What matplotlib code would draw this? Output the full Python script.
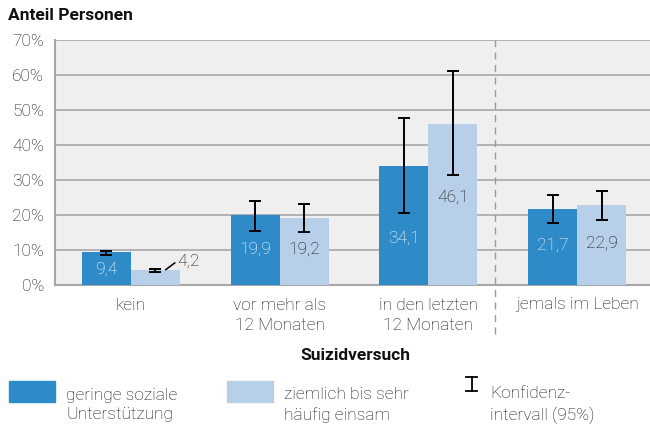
import matplotlib.pyplot as plt
import matplotlib.patches as mpatches
import numpy as np

plt.rcParams['font.family'] = ['Roboto', 'DejaVu Sans']
plt.rcParams['font.size'] = 12.5

# Daten
kategorien = ['kein', 'vor mehr als\n12 Monaten', 'in den letzten\n12 Monaten', 'jemals im Leben']
gering_unterstuetzung = [9.4, 19.9, 34.1, 21.7]
gering_ki_unten = [8.7, 15.5, 20.7, 17.6]
gering_ki_oben = [9.8, 24.0, 47.6, 25.8]
einsam = [4.2, 19.2, 46.1, 22.9]
einsam_ki_unten = [3.6, 15.1, 31.4, 18.6]
einsam_ki_oben = [4.6, 23.2, 61.1, 26.9]
yticks = [0, 10, 20, 30, 40, 50, 60, 70]

dunkel = '#2E8BC7'
hell = '#B8CFEA'
txt = '#111111'
fs = 12.5

fig = plt.figure(figsize=(6.5, 4.25), dpi=100)
ax = fig.add_axes([55/650, 1 - 285/425, 595/650, 245/425])
ax.set_facecolor('#EFEFEF')

x = np.arange(len(kategorien))
b = 0.33

ax.bar(x - b/2, gering_unterstuetzung, b, color=dunkel, zorder=3)
ax.bar(x + b/2, einsam, b, color=hell, zorder=3)

g = np.array(gering_unterstuetzung)
e = np.array(einsam)
ax.errorbar(x - b/2, g, yerr=[g - np.array(gering_ki_unten), np.array(gering_ki_oben) - g],
            fmt='none', ecolor='black', elinewidth=1.4, capsize=4.5, capthick=1.4, zorder=4)
ax.errorbar(x + b/2, e, yerr=[e - np.array(einsam_ki_unten), np.array(einsam_ki_oben) - e],
            fmt='none', ecolor='black', elinewidth=1.4, capsize=4.5, capthick=1.4, zorder=4)

# Beschriftungen in den Balken
pos_g = [4.4, 10.2, 13.5, 11.3]
pos_e = [None, 10.2, 25.0, 11.9]
for i in range(len(kategorien)):
    ax.text(x[i] - b/2, pos_g[i], f'{gering_unterstuetzung[i]:.1f}'.replace('.', ','),
            ha='center', va='center', color='white', fontweight='light', fontsize=fs, zorder=5)
    if pos_e[i] is not None:
        ax.text(x[i] + b/2, pos_e[i], f'{einsam[i]:.1f}'.replace('.', ','),
                ha='center', va='center', color=txt, fontweight='light', fontsize=fs, zorder=5)
# 4,2 ausserhalb mit Linie
ax.plot([x[0] + b/2 + 0.07, x[0] + b/2 + 0.13], [4.4, 6.3], color='black', lw=1.1, zorder=5)
ax.text(x[0] + b/2 + 0.145, 6.9, '4,2', ha='left', va='center', color=txt,
        fontweight='light', fontsize=fs, zorder=5)

ax.set_xlim(-0.51, 3.49)
ax.set_ylim(0, 70)
ax.set_yticks(yticks)
ax.set_yticklabels([f'{t}%' for t in yticks], color=txt, fontweight='light', fontsize=fs)
ax.yaxis.grid(True, color='#A8A8A8', lw=1.2, zorder=1)
ax.tick_params(axis='y', length=0, pad=8)
ax.tick_params(axis='x', length=0, pad=9)
ax.set_xticks(x)
ax.set_xticklabels(kategorien, color=txt, fontweight='light', fontsize=fs, linespacing=1.45)
for s in ['top', 'right']:
    ax.spines[s].set_visible(False)
ax.spines['left'].set_color('#A8A8A8')
ax.spines['left'].set_linewidth(1.5)
ax.spines['bottom'].set_color('#A8A8A8')
ax.spines['bottom'].set_linewidth(1.5)

# gestrichelte Trennlinie
ax.plot([2.45, 2.45], [-14, 70], color='#999999', lw=1, ls=(0, (5, 4)), clip_on=False, zorder=2)

fig.text(8/650, 1 - 15/425, 'Anteil Personen', fontweight='bold', fontsize=fs, va='center', color=txt)
fig.text(355/650, 1 - 355/425, 'Suizidversuch', fontweight='bold', fontsize=fs, ha='center', va='center', color=txt)

# Legende
fig.patches.append(mpatches.Rectangle((9/650, 1 - 402/425), 46/650, 21/425, color=dunkel, transform=fig.transFigure))
fig.patches.append(mpatches.Rectangle((227/650, 1 - 402/425), 46/650, 21/425, color=hell, transform=fig.transFigure))
fig.text(66/650, 1 - 405/425, 'geringe soziale\nUnterstützung', fontweight='light', fontsize=fs, va='center', color=txt, linespacing=1.4)
fig.text(284/650, 1 - 405/425, 'ziemlich bis sehr\nhäufig einsam', fontweight='light', fontsize=fs, va='center', color=txt, linespacing=1.4)
fig.lines.append(plt.Line2D([471.5/650, 471.5/650], [1 - 377/425, 1 - 391/425], color='black', lw=1.3, transform=fig.transFigure))
fig.lines.append(plt.Line2D([466/650, 477/650], [1 - 377/425, 1 - 377/425], color='black', lw=1.3, transform=fig.transFigure))
fig.lines.append(plt.Line2D([466/650, 477/650], [1 - 391/425, 1 - 391/425], color='black', lw=1.3, transform=fig.transFigure))
fig.text(490/650, 1 - 405/425, 'Konfidenz-\nintervall (95%)', fontweight='light', fontsize=fs, va='center', color=txt, linespacing=1.4)

plt.savefig('out.png', dpi=100)
